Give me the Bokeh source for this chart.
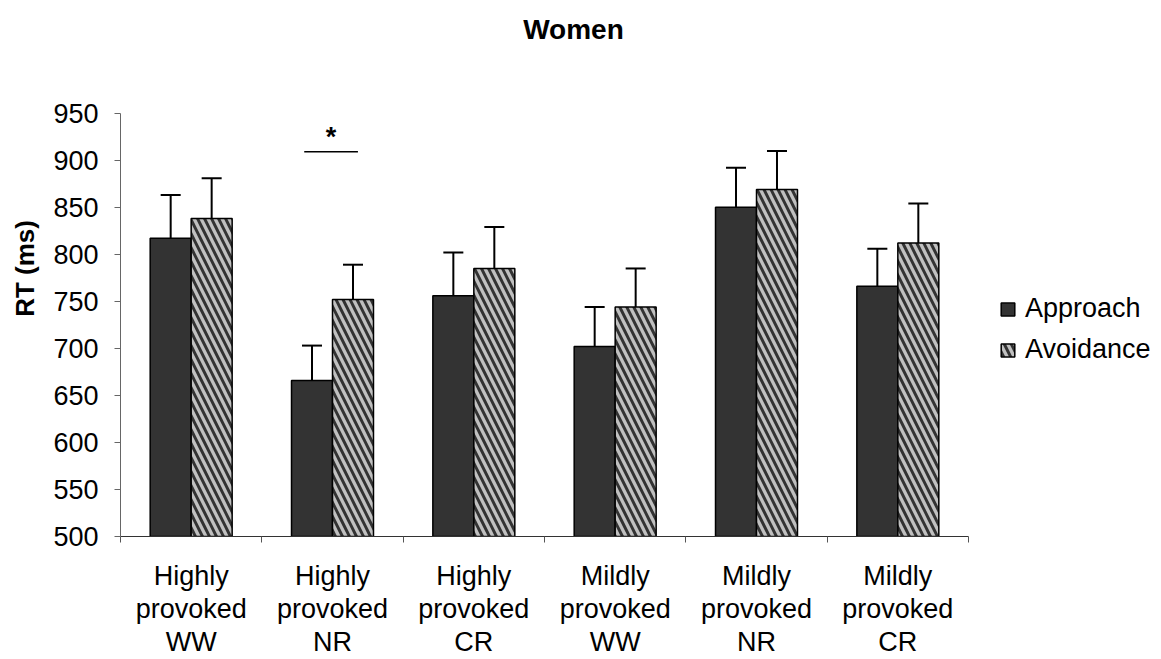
from bokeh.plotting import figure
from bokeh.models import (ColumnDataSource, Range1d, FixedTicker,
                          Whisker, TeeHead, Legend, LegendItem, Label)
from bokeh.core.properties import value
from bokeh.embed import file_html
from bokeh.resources import INLINE

# ---- data ----
conditions = ["Highly\nprovoked\nWW", "Highly\nprovoked\nNR", "Highly\nprovoked\nCR",
              "Mildly\nprovoked\nWW", "Mildly\nprovoked\nNR", "Mildly\nprovoked\nCR"]
approach = [817, 666, 756, 702, 850, 766]
approach_err = [46, 37, 46, 42, 42, 40]
avoidance = [838, 752, 785, 744, 869, 812]
avoidance_err = [43, 37, 44, 41, 41, 42]
y_ticks = [500, 550, 600, 650, 700, 750, 800, 850, 900, 950]

# significance marker between the two NR bars
sig_group = 1
sig_level = 909
star_level = 925

FONT = "Liberation Sans"
DARK = "#333333"
LIGHT = "#c0c0c0"

# canvas geometry (pixels)
W, H = 1161, 659
LEFT, BOTTOM = 120, 122
AXIS_W, AXIS_H = 848, 424          # drawn length of the x and y axes
TOP_GAP = H - BOTTOM - AXIS_H      # space above the value axis for title

n = len(conditions)
centers = [i + 0.5 for i in range(n)]
bar_w = 0.29
offset = bar_w / 2

y0, y1 = y_ticks[0], y_ticks[-1]
x_end = n * (W - LEFT) / AXIS_W
y_end = y1 + (y1 - y0) * TOP_GAP / AXIS_H

src_app = ColumnDataSource(dict(
    x=[c - offset for c in centers], top=approach,
    upper=[v + e for v, e in zip(approach, approach_err)]))
src_avo = ColumnDataSource(dict(
    x=[c + offset for c in centers], top=avoidance,
    upper=[v + e for v, e in zip(avoidance, avoidance_err)]))

p = figure(width=W, height=H, output_backend="svg", toolbar_location=None,
           title=None,
           x_range=Range1d(0, x_end), y_range=Range1d(y0, y_end),
           min_border_left=LEFT, min_border_right=0,
           min_border_top=0, min_border_bottom=BOTTOM)
p.outline_line_color = None
p.grid.grid_line_color = None
p.background_fill_color = "white"
p.border_fill_color = "white"

r_app = p.vbar(x="x", top="top", bottom=y0, width=bar_w, source=src_app,
               fill_color=DARK, line_color="black", line_width=1.5)
r_avo = p.vbar(x="x", top="top", bottom=y0, width=bar_w, source=src_avo,
               fill_color=LIGHT, line_color="black", line_width=1.5,
               hatch_pattern="\\", hatch_color=DARK, hatch_weight=3, hatch_scale=14)

for src in (src_app, src_avo):
    w = Whisker(base="x", lower="top", upper="upper", source=src,
                lower_head=None,
                upper_head=TeeHead(size=20, line_width=2, line_color="black"),
                line_color="black", line_width=2)
    p.add_layout(w)

# significance bar and asterisk
p.segment(x0=[centers[sig_group] - 0.2], x1=[centers[sig_group] + 0.18],
          y0=[sig_level], y1=[sig_level], line_color="black", line_width=1.5)
p.text(x=[centers[sig_group] - 0.01], y=[star_level], text=["*"],
       text_font=value(FONT), text_font_size="27px", text_font_style="bold",
       text_align="center", text_baseline="alphabetic", text_color="black")

# x axis: ticks between groups, labels at group centres
xa = p.xaxis[0]
xa.bounds = (0, n)
xa.ticker = FixedTicker(ticks=centers, minor_ticks=list(range(n + 1)))
xa.major_label_overrides = {c: lab for c, lab in zip(centers, conditions)}
xa.major_tick_out = 0
xa.major_tick_in = 0
xa.minor_tick_out = 6
xa.minor_tick_in = 0
xa.minor_tick_line_color = "#555555"
xa.axis_line_color = "#333333"
xa.major_label_text_font = FONT
xa.major_label_text_font_size = "27px"
xa.major_label_text_line_height = 1.1
xa.major_label_text_color = "black"
xa.major_label_standoff = 18

# y axis
ya = p.yaxis[0]
ya.bounds = (y0, y1)
ya.ticker = FixedTicker(ticks=y_ticks)
ya.major_tick_out = 6
ya.major_tick_in = 0
ya.minor_tick_line_color = None
ya.axis_line_color = "#666666"
ya.major_tick_line_color = "#666666"
ya.major_label_text_font = FONT
ya.major_label_text_font_size = "27px"
ya.major_label_text_color = "black"
ya.major_label_standoff = 16
ya.axis_label = "RT (ms)"
ya.axis_label_text_font = FONT
ya.axis_label_text_font_size = "26px"
ya.axis_label_text_font_style = "bold"
ya.axis_label_text_color = "black"
ya.axis_label_standoff = 10

# chart title
p.add_layout(Label(x=453, y=AXIS_H + TOP_GAP - 30, x_units="screen", y_units="screen",
                   text="Women", text_font=FONT, text_font_size="28px",
                   text_font_style="bold", text_align="center",
                   text_baseline="middle", text_color="black"))

legend = Legend(items=[LegendItem(label="Approach", renderers=[r_app]),
                       LegendItem(label="Avoidance", renderers=[r_avo])],
                location=(879, 171), padding=0, margin=0, spacing=10,
                glyph_width=17, glyph_height=16, label_standoff=9,
                label_text_font=FONT, label_text_font_size="27px",
                label_text_color="black", label_height=30,
                border_line_color=None, background_fill_alpha=0)
p.add_layout(legend)

open("out.html", "w").write(file_html(p, INLINE))
